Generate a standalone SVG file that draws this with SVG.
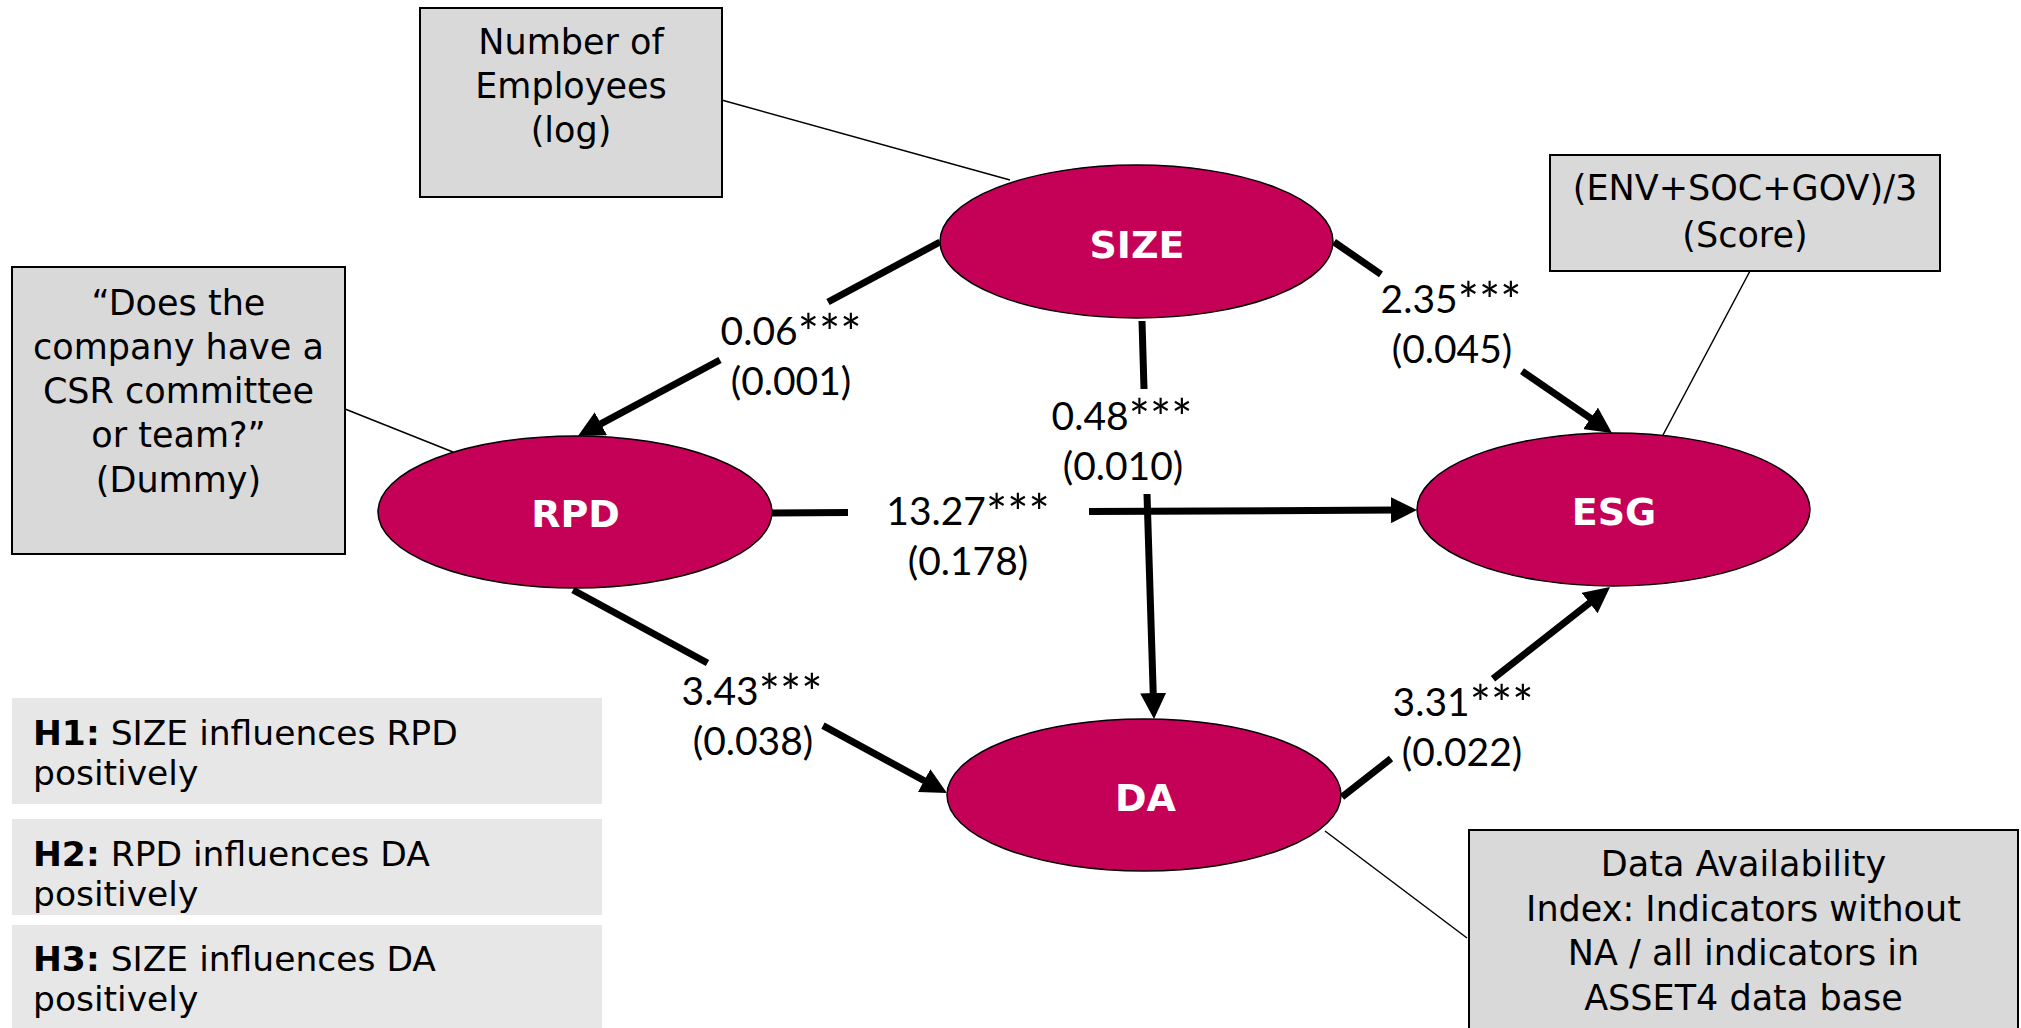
<svg xmlns="http://www.w3.org/2000/svg" width="2021" height="1028" viewBox="0 0 2021 1028">
<defs>
<style>
.box{fill:#D9D9D9;stroke:#000;stroke-width:2}
.hbox{fill:#E7E7E7}
.ell{fill:#C40057;stroke:#000;stroke-width:1.5}
.bt{font-family:"DejaVu Sans",Verdana,sans-serif;font-size:35px;fill:#000;text-anchor:middle}
.ht{font-family:"DejaVu Sans",Verdana,sans-serif;font-size:34.5px;fill:#000}
.nt{font-family:"DejaVu Sans",Verdana,sans-serif;font-size:38px;font-weight:bold;fill:#fff;text-anchor:middle}
.lt{font-family:Lato,"Open Sans",sans-serif;font-size:39px;fill:#000;text-anchor:middle}
.st{font-size:50px}
.thick{fill:none;stroke:#000;stroke-width:7}
.thin{fill:none;stroke:#000;stroke-width:1.5}
</style>
<marker id="ah" markerUnits="userSpaceOnUse" markerWidth="26" markerHeight="26" viewBox="0 0 26 26" refX="6" refY="13" orient="auto">
<path d="M0,0 L26,13 L0,26 z" fill="#000"/>
</marker>
</defs>
<rect width="2021" height="1028" fill="#fff"/>

<g id="connectors">
<path class="thin" d="M718,99 L1010,180"/>
<path class="thin" d="M345,409 L453,452"/>
<path class="thin" d="M1750,271 L1663,435"/>
<path class="thin" d="M1325,831 L1467,938"/>
<path class="thick" d="M940,242 L828,302 M720,360 L595.6,426.6" marker-end="url(#ah)"/>
<path class="thick" d="M1334,242 L1381,274.3 M1522,371.2 L1595.5,421.7" marker-end="url(#ah)"/>
<path class="thick" d="M772,513 L848,512.6 M1089,511.5 L1397,510.1" marker-end="url(#ah)"/>
<path class="thick" d="M1142,321 L1144,389 M1147,494 L1153.4,699" marker-end="url(#ah)"/>
<path class="thick" d="M573,590 L707.5,663 M823,725.7 L929.4,783.5" marker-end="url(#ah)"/>
<path class="thick" d="M1342,797 L1391,758.6 M1493,678.7 L1594.3,599.3" marker-end="url(#ah)"/>
</g>

<g id="labels">
<text class="lt" x="791" y="345">0.06<tspan class="st" dy="6">***</tspan></text>
<text class="lt" x="791" y="395">(0.001)</text>
<text class="lt" x="1451" y="313">2.35<tspan class="st" dy="6">***</tspan></text>
<text class="lt" x="1452" y="363">(0.045)</text>
<text class="lt" x="1122" y="430">0.48<tspan class="st" dy="6">***</tspan></text>
<text class="lt" x="1123" y="480">(0.010)</text>
<text class="lt" x="968" y="525">13.27<tspan class="st" dy="6">***</tspan></text>
<text class="lt" x="968" y="575">(0.178)</text>
<text class="lt" x="752" y="705">3.43<tspan class="st" dy="6">***</tspan></text>
<text class="lt" x="753" y="755">(0.038)</text>
<text class="lt" x="1463" y="716">3.31<tspan class="st" dy="6">***</tspan></text>
<text class="lt" x="1462" y="766">(0.022)</text>
</g>

<g id="node-employees">
<rect class="box" x="420" y="8" width="302" height="189"/>
<text class="bt" x="571" y="54">Number of</text>
<text class="bt" x="571" y="98">Employees</text>
<text class="bt" x="571" y="142">(log)</text>
</g>

<g id="node-csr">
<rect class="box" x="12" y="267" width="333" height="287"/>
<text class="bt" x="178.5" y="315">“Does the</text>
<text class="bt" x="178.5" y="359">company have a</text>
<text class="bt" x="178.5" y="403">CSR committee</text>
<text class="bt" x="178.5" y="447">or team?”</text>
<text class="bt" x="178.5" y="492">(Dummy)</text>
</g>

<g id="node-esg-def">
<rect class="box" x="1550" y="155" width="390" height="116"/>
<text class="bt" x="1745" y="200">(ENV+SOC+GOV)/3</text>
<text class="bt" x="1745" y="247">(Score)</text>
</g>

<g id="node-da-def">
<rect class="box" x="1469" y="830" width="549" height="210"/>
<text class="bt" x="1743.5" y="876">Data Availability</text>
<text class="bt" x="1743.5" y="921">Index: Indicators without</text>
<text class="bt" x="1743.5" y="965">NA / all indicators in</text>
<text class="bt" x="1743.5" y="1010">ASSET4 data base</text>
</g>

<g id="node-size">
<ellipse class="ell" cx="1136.5" cy="241.5" rx="196.5" ry="76.5"/>
<text class="nt" x="1137" y="258">SIZE</text>
</g>

<g id="node-rpd">
<ellipse class="ell" cx="575" cy="512" rx="197" ry="76"/>
<text class="nt" x="575.5" y="527">RPD</text>
</g>

<g id="node-esg">
<ellipse class="ell" cx="1613.5" cy="509.5" rx="196.5" ry="76.5"/>
<text class="nt" x="1614" y="525">ESG</text>
</g>

<g id="node-da">
<ellipse class="ell" cx="1144" cy="795" rx="197" ry="76"/>
<text class="nt" x="1145.5" y="811">DA</text>
</g>

<g id="node-h1">
<rect class="hbox" x="12" y="698" width="590" height="106"/>
<text class="ht" x="33" y="745"><tspan font-weight="bold">H1:</tspan> SIZE influences RPD</text>
<text class="ht" x="33" y="785">positively</text>
</g>

<g id="node-h2">
<rect class="hbox" x="12" y="819" width="590" height="96"/>
<text class="ht" x="33" y="866"><tspan font-weight="bold">H2:</tspan> RPD influences DA</text>
<text class="ht" x="33" y="906">positively</text>
</g>

<g id="node-h3">
<rect class="hbox" x="12" y="925" width="590" height="103"/>
<text class="ht" x="33" y="971"><tspan font-weight="bold">H3:</tspan> SIZE influences DA</text>
<text class="ht" x="33" y="1011">positively</text>
</g>
</svg>
